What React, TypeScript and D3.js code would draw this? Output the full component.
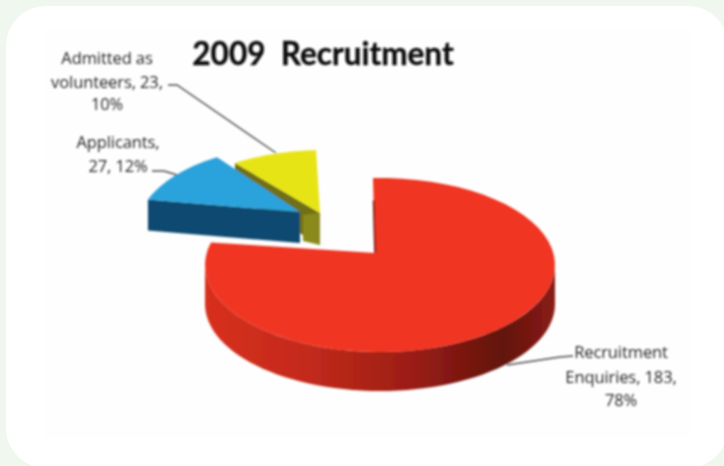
import React from "react";
import * as d3 from "d3";

const categories = ["Recruitment Enquiries", "Applicants", "Admitted as volunteers"];
const values = [183, 27, 23];
const percents = ["78%", "12%", "10%"];
const title = "2009\u00a0\u00a0Recruitment";

const W = 724;
const H = 466;
const rad = Math.PI / 180;

// Each exploded slice is foreshortened on its own ellipse, with its apex off-centre
const shapes = [
  { apex: [375, 253], c: [380, 265], r: [175, 87], t: [-2.3, 285], depth: 39, top: "#f03420", wall: "url(#redWall)" },
  { apex: [300, 212], c: [302, 230], r: [165, 85], t: [-69, -31], depth: 31, top: "#29a2dc", wall: "#0e4a70" },
  { apex: [320, 213], c: [325, 235], r: [170, 85], t: [-32, -3], depth: 32, top: "#e7e414", wall: "#6f6f12" },
];

const pie = d3.pie<number>().sort(null).startAngle(0).endAngle(2 * Math.PI);
const arcs = pie(values);
const line = d3.line();

function rim(i: number, from: number, to: number, dy = 0): [number, number][] {
  const s = shapes[i];
  return d3.range(0, 61).map((k) => {
    const t = (from + ((to - from) * k) / 60) * rad;
    return [s.c[0] + s.r[0] * Math.sin(t), s.c[1] - s.r[1] * Math.cos(t) + dy] as [number, number];
  });
}

function slicePoints(i: number) {
  const a = arcs[i];
  const s = shapes[i];
  const scale = d3.scaleLinear().domain([a.startAngle, a.endAngle]).range(s.t);
  return rim(i, scale(a.startAngle), scale(a.endAngle));
}

function topPath(i: number) {
  const pts = slicePoints(i);
  return line([shapes[i].apex as [number, number], ...pts]) + "Z";
}

// The back wall of an exploded slice: the radial edge on its clockwise-first side
function edgeWall(i: number) {
  const s = shapes[i];
  const pts = slicePoints(i);
  const corner = pts[0];
  const apex = s.apex as [number, number];
  return (
    line([corner, apex, [apex[0], apex[1] + s.depth], [corner[0], corner[1] + s.depth]]) + "Z"
  );
}

function redWall() {
  const s = shapes[0];
  const upper = rim(0, 90, 270);
  const lower = rim(0, 270, 90, s.depth);
  return line([...upper, ...lower]) + "Z";
}

const labelFont = "'Open Sans', Lato, sans-serif";

const labels = [
  { x: 107, lines: [["Admitted as", 64], [`volunteers, ${values[2]},`, 88], [percents[2], 110]] },
  { x: 118, lines: [["Applicants,", 148], [`${values[1]}, ${percents[1]}`, 172]] },
  { x: 621, lines: [["Recruitment", 358], [`Enquiries, ${values[0]},`, 383], [percents[0], 406]] },
];

const leaders: [number, number][][] = [
  [[168, 85], [177, 85], [276, 153]],
  [[152, 171], [164, 171], [177, 175]],
  [[573, 356], [560, 357], [507, 365]],
];

export default function App() {
  const notchEdge = shapes[0];
  return (
    <svg
      width={W}
      height={H}
      viewBox={`0 0 ${W} ${H}`}
      role="img"
      aria-label={categories.join(", ")}
      style={{ position: "fixed", left: 0, top: 0, display: "block" }}
    >
      <defs>
        <linearGradient id="redWall" gradientUnits="userSpaceOnUse" x1="205" x2="555" y1="0" y2="0">
          <stop offset="0" stopColor="#d8301f" />
          <stop offset="0.3" stopColor="#c22a1b" />
          <stop offset="0.6" stopColor="#9a1d13" />
          <stop offset="0.85" stopColor="#621210" />
          <stop offset="1" stopColor="#8a1c13" />
        </linearGradient>
        <filter id="soft" x="-5%" y="-5%" width="110%" height="110%">
          <feGaussianBlur stdDeviation="0.8" />
        </filter>
      </defs>
      <rect width={W} height={H} fill="#f0f7ee" />
      <rect x={6} y={6} width={722} height={462} rx={40} fill="#ffffff" />
      <rect x={43} y={28} width={647} height={410} fill="#fefefe" />
      <g filter="url(#soft)">
        <path d={edgeWall(2)} fill={shapes[2].wall} />
        <path
          d={
            line([
              shapes[2].apex as [number, number],
              [shapes[2].apex[0], shapes[2].apex[1] + shapes[2].depth],
              [303, shapes[2].apex[1] + shapes[2].depth - 4],
              [303, shapes[2].apex[1] + 2],
            ]) + "Z"
          }
          fill="#8a8a1e"
        />
        <path d={topPath(2)} fill={shapes[2].top} />
        <path d={edgeWall(1)} fill={shapes[1].wall} />
        <path d={topPath(1)} fill={shapes[1].top} />
        <path d={redWall()} fill={shapes[0].wall} />
        <path d={topPath(0)} fill={shapes[0].top} />
        <path
          d={line([
            [d3.interpolateNumber(notchEdge.apex[0], 373)(0.7), d3.interpolateNumber(notchEdge.apex[1], 178)(0.7)],
            notchEdge.apex as [number, number],
          ])!}
          fill="none"
          stroke="#6a1510"
          strokeWidth={1.6}
        />
        {leaders.map((pts, i) => (
          <path key={i} d={line(pts)!} fill="none" stroke="#4d4d4d" strokeWidth={1.4} />
        ))}
      </g>
      <g filter="url(#soft)" textAnchor="middle" fontFamily={labelFont} fontWeight={500} fill="#262626" fontSize={16.5} letterSpacing={-0.1}>
        {labels.flatMap((l) =>
          l.lines.map(([txt, y]) => (
            <text key={String(txt)} x={l.x} y={y as number}>
              {txt}
            </text>
          ))
        )}
      </g>
      <text
        filter="url(#soft)"
        x={323}
        y={65}
        textAnchor="middle"
        fontFamily="Lato, 'Open Sans', sans-serif"
        fontWeight={700}
        fontSize={31.5}
        fill="#111"
        stroke="#111"
        strokeWidth={0.4}
      >
        {title}
      </text>
    </svg>
  );
}
